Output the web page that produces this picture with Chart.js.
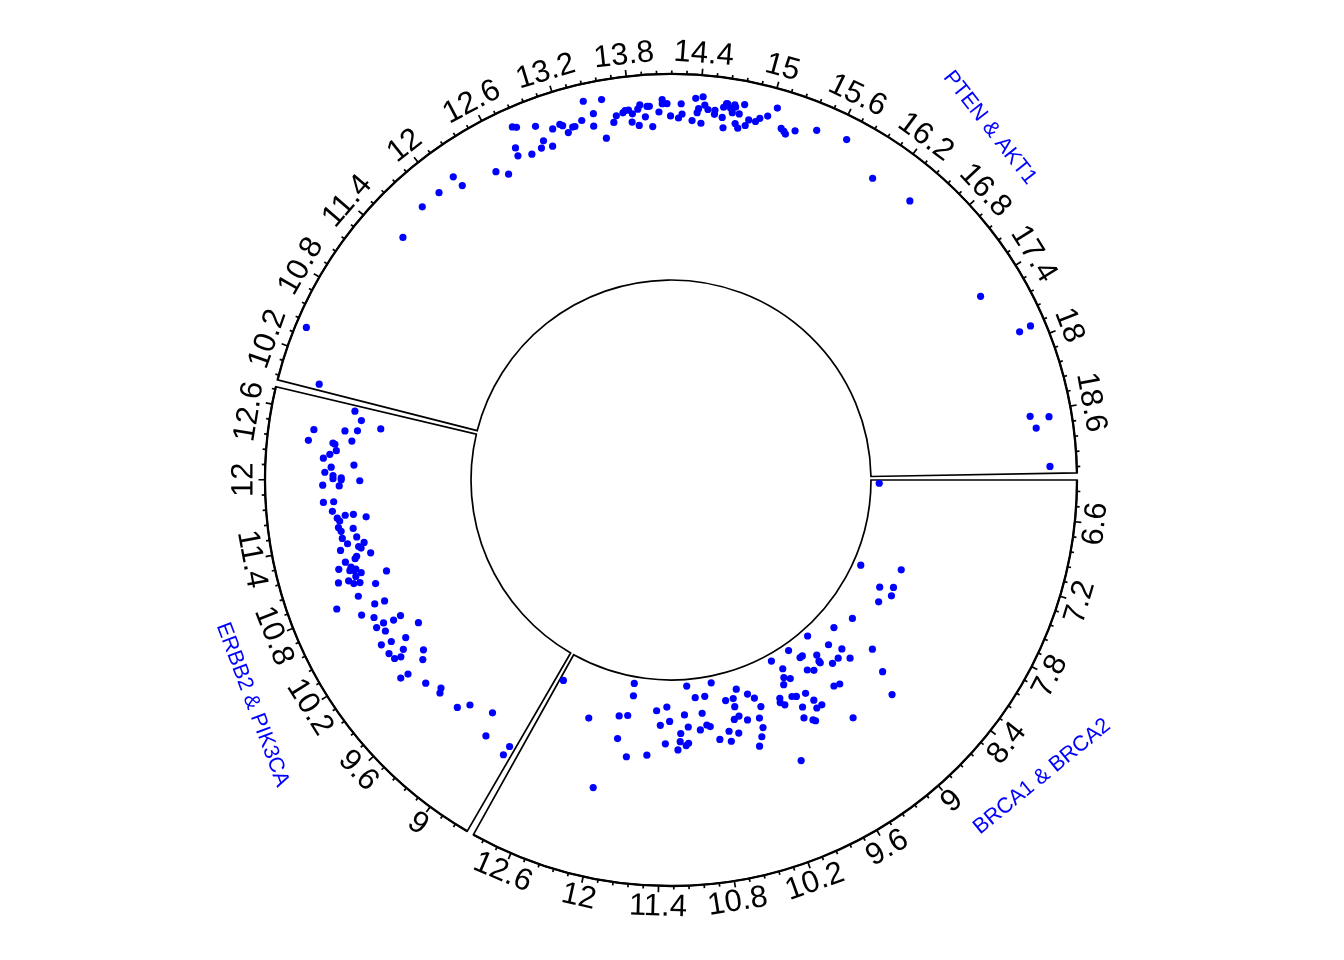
<!DOCTYPE html>
<html>
<head>
<meta charset="utf-8">
<title>Circular scatter by gene pair</title>
<script src="https://cdn.jsdelivr.net/npm/chart.js@4/dist/chart.umd.min.js"></script>
<style>
  html, body { margin: 0; padding: 0; background: #fff; }
  #wrap { width: 1344px; height: 960px; position: relative; }
</style>
</head>
<body>
<div id="wrap"><canvas id="chart"></canvas></div>
<script>
// sectors, clockwise from 3 o'clock
const sectorNames = ["BRCA1 & BRCA2", "ERBB2 & PIK3CA", "PTEN & AKT1"];
const sectorXlim = [[6.27, 12.93], [8.65, 12.74], [9.92, 19.13]];
const trackYlim = [0, 10];

// axis ticks: labelled every 0.6, 4 minor ticks between
const majorStep = 0.6;
const minorPerMajor = 5;

// sector label placement (x in sector units) and text rotation in degrees
const sectorLabelAt = [8.43, 10.42, 16.51];
const sectorLabelRot = [-39.2, 69.4, 52];

const brcaX = [12.87,12.36,11.87,11.85,11.99,11.88,11.95,11.81,11.58,12.09,11.50,11.36,11.44,11.32,11.37,11.22,11.19,11.18,11.06,11.12,11.08,11.12,11.09,
  10.95,10.81,10.88,10.93,10.84,10.80,10.68,10.71,10.53,10.42,10.34,10.43,10.58,10.58,10.48,10.41,10.47,10.21,10.14,10.32,10.10,10.17,10.17,10.22,
  10.28,9.69,9.60,9.38,9.65,9.58,9.70,9.83,9.85,9.81,9.68,9.63,9.51,9.63,9.68,9.47,9.60,9.58,9.49,9.42,9.92,9.30,9.26,9.32,9.25,9.01,9.09,9.12,9.12,
  8.87,8.64,9.00,8.90,8.78,9.17,9.10,8.79,9.22,8.52,8.64,8.75,6.32,7.63,7.47,7.80,7.72,7.83,7.98,8.37];
const brcaY = [1.4,2.6,0.4,1.0,2.1,2.0,3.2,4.0,3.8,5.8,1.6,1.4,2.3,2.1,3.2,3.5,3.1,2.7,0.4,1.8,2.4,3.3,3.2,1.0,1.0,1.8,2.6,2.4,2.5,0.4,3.2,1.4,1.4,1.0,1.8,
  2.9,3.4,2.4,2.3,3.1,1.4,1.7,2.6,2.2,2.7,3.2,3.6,4.0,0.4,1.0,0.4,1.4,1.6,1.7,2.2,2.4,2.6,2.4,2.5,2.6,3.1,3.6,3.1,3.9,4.0,3.5,3.5,5.4,1.0,1.0,1.7,
  1.9,0.4,1.4,1.7,1.8,1.4,1.0,2.2,2.2,2.0,3.1,3.2,2.6,4.9,3.1,4.2,5.3,0.4,0.4,2.3,1.7,2.3,2.4,2.0,1.4];

const erbb2X = [12.69,12.61,12.45,12.48,12.50,12.56,12.35,12.39,12.35,12.34,12.28,12.24,12.20,12.15,12.12,12.07,12.04,12.02,12.01,12.00,11.99,11.95,11.94,
  11.79,11.79,11.70,11.65,11.65,11.61,11.63,11.60,11.54,11.51,11.50,11.42,11.43,11.35,11.37,11.32,11.30,11.32,11.23,11.23,11.21,11.20,11.14,11.11,
  11.15,11.11,11.10,11.06,11.00,11.04,11.02,10.98,10.97,11.03,10.91,10.85,10.81,10.72,10.71,10.67,10.60,10.49,10.50,10.34,10.50,10.51,10.43,10.27,10.31,
  10.33,10.18,10.06,10.22,10.13,10.15,9.98,9.95,9.96,9.77,9.63,9.60,9.37,9.29,9.05,8.96,8.70,8.71];
const erbb2Y = [6.0,5.6,7.8,6.3,5.7,4.6,8.0,5.9,6.8,6.7,6.6,6.9,7.2,5.7,6.8,7.1,6.7,6.3,6.7,6.3,5.4,7.2,6.4,7.2,6.7,6.8,5.8,6.2,5.2,6.6,6.5,6.6,5.9,6.5,
  5.8,6.5,5.5,6.3,5.8,5.7,6.7,5.3,6.0,6.1,6.6,6.4,6.2,7.0,6.5,6.3,6.0,4.8,6.3,6.7,6.5,6.2,7.2,5.5,6.5,7.7,5.9,5.4,6.7,6.2,5.4,5.0,4.4,6.3,5.9,6.0,5.3,
  6.0,6.5,5.7,4.9,6.4,6.0,6.3,5.2,6.2,6.6,5.8,5.4,5.6,5.5,5.0,4.6,5.7,5.5,6.0];

const ptenX = [10.40,9.98,11.49,11.80,11.99,12.17,12.19,12.51,12.60,12.81,12.84,12.76,12.75,12.87,12.99,12.97,13.01,13.07,13.12,13.19,13.21,13.24,13.29,
  13.31,13.38,13.43,13.49,13.47,13.58,13.56,13.65,13.68,13.74,13.76,13.79,13.82,13.81,13.87,13.89,13.87,13.93,13.95,13.97,13.99,14.05,14.08,14.08,
  14.12,14.15,14.22,14.24,14.25,14.34,14.36,14.38,14.39,14.42,14.42,14.44,14.47,14.53,14.53,14.60,14.62,14.60,14.62,14.63,14.66,14.68,14.69,14.72,14.75,
  14.70,14.74,14.77,14.81,14.83,14.89,14.92,14.98,15.04,15.12,15.15,15.17,15.24,15.41,15.67,16.03,16.41,17.46,17.89,17.88,18.62,18.65,18.73,19.07];
const ptenY = [9.5,8.0,7.9,8.3,8.3,8.5,7.9,7.6,7.2,9.2,9.1,8.2,7.8,7.6,8.8,7.7,8.0,7.6,8.4,8.5,8.4,8.0,8.2,8.2,8.4,9.3,8.6,8.0,9.2,7.3,8.0,8.3,8.4,8.5,8.5,
  8.3,7.9,8.5,8.7,7.7,8.1,8.6,8.6,7.6,8.3,8.9,8.7,8.7,8.1,8.0,8.7,8.2,7.9,9.0,8.3,8.5,7.8,9.1,8.7,8.5,8.5,8.3,8.2,7.7,8.7,8.9,8.9,8.7,8.5,8.9,8.0,
  7.8,8.8,8.5,9.0,8.0,8.3,8.3,8.5,8.7,9.2,8.3,8.2,8.1,8.4,8.8,9.0,8.0,8.2,7.8,8.7,9.3,8.0,8.9,8.2,8.7];

const seriesX = [brcaX, erbb2X, ptenX];
const seriesY = [brcaY, erbb2Y, ptenY];

// geometry (px units of the square plot frame)
const CX = 671, CY = 480, HALF = 480;
const R_OUT = 406, R_IN = 200;
const GAP_DEG = 1, START_DEG = 0;
const labelFont = '31px "Liberation Sans", Arial, sans-serif';
const sectorFont = '21.5px "Liberation Sans", Arial, sans-serif';

// angle of every sector, like circlize: width proportional to x range
const totalRange = sectorXlim.reduce((s, l) => s + l[1] - l[0], 0);
const degPerUnit = (360 - GAP_DEG * sectorXlim.length) / totalRange;
const sectorStart = [];
let acc = START_DEG;
sectorXlim.forEach(l => { sectorStart.push(acc); acc += (l[1] - l[0]) * degPerUnit + GAP_DEG; });

function angleOf(s, x) {
  return (sectorStart[s] + (x - sectorXlim[s][0]) * degPerUnit) * Math.PI / 180;
}
function radiusOf(y) {
  return R_IN + (y - trackYlim[0]) / (trackYlim[1] - trackYlim[0]) * (R_OUT - R_IN);
}

const datasets = sectorNames.map((name, s) => ({
  label: name,
  data: seriesX[s].map((x, i) => {
    const a = angleOf(s, x), r = radiusOf(seriesY[s][i]);
    return { x: r * Math.cos(a), y: r * Math.sin(a) };
  }),
  backgroundColor: "#0000ff",
  borderWidth: 0,
  pointRadius: 3.6,
  pointHoverRadius: 3.6
}));

function fmt(v) {
  return String(Math.round(v * 10) / 10);
}

const circosFrame = {
  id: "circosFrame",
  beforeDatasetsDraw(chart) {
    const { ctx, scales } = chart;
    const ox = scales.x.getPixelForValue(0), oy = scales.y.getPixelForValue(0);
    const k = scales.x.getPixelForValue(1) - ox;
    const rOut = R_OUT * k, rIn = R_IN * k;
    ctx.save();
    ctx.strokeStyle = "#000";
    ctx.lineJoin = "miter";

    sectorNames.forEach((name, s) => {
      const a0 = angleOf(s, sectorXlim[s][0]), a1 = angleOf(s, sectorXlim[s][1]);
      // cell border
      ctx.lineWidth = 1.7;
      ctx.beginPath();
      ctx.arc(ox, oy, rOut, a0, a1, false);
      ctx.arc(ox, oy, rIn, a1, a0, true);
      ctx.closePath();
      ctx.stroke();

      // axis line on top of the cell
      ctx.lineWidth = 2.3;
      ctx.beginPath();
      ctx.arc(ox, oy, rOut, a0, a1, false);
      ctx.stroke();

      // ticks and labels
      const step = majorStep / minorPerMajor;
      const first = Math.ceil(sectorXlim[s][0] / step - 1e-9);
      const last = Math.floor(sectorXlim[s][1] / step + 1e-9);
      ctx.lineWidth = 1.7;
      ctx.font = labelFont;
      for (let i = first; i <= last; i++) {
        const v = i * step;
        const major = i % minorPerMajor === 0;
        const a = angleOf(s, v);
        const len = (major ? 6.5 : 3.5) * k;
        ctx.beginPath();
        ctx.moveTo(ox + rOut * Math.cos(a), oy + rOut * Math.sin(a));
        ctx.lineTo(ox + (rOut + len) * Math.cos(a), oy + (rOut + len) * Math.sin(a));
        ctx.stroke();
        if (major) {
          const rl = rOut + 21 * k;
          const txt = fmt(v);
          // keep end labels inside their sector
          const half = ctx.measureText(txt).width / 2 / rl;
          let la = a;
          if (la + half > a1) la = a1 - half;
          if (la - half < a0) la = a0 + half;
          let rot = la + Math.PI / 2;
          while (rot > Math.PI / 2 + 1e-6) rot -= Math.PI;
          while (rot <= -Math.PI / 2 + 1e-6) rot += Math.PI;
          ctx.save();
          ctx.translate(ox + rl * Math.cos(la), oy + rl * Math.sin(la));
          ctx.rotate(rot);
          ctx.fillStyle = "#000";
          ctx.textAlign = "center";
          ctx.textBaseline = "middle";
          ctx.fillText(txt, 0, 0);
          ctx.restore();
        }
      }

      // sector name
      const la = angleOf(s, sectorLabelAt[s]);
      const lr = rOut + 69 * k;
      ctx.save();
      ctx.translate(ox + lr * Math.cos(la), oy + lr * Math.sin(la));
      ctx.rotate(sectorLabelRot[s] * Math.PI / 180);
      ctx.font = sectorFont;
      ctx.fillStyle = "#0000ff";
      ctx.textAlign = "center";
      ctx.textBaseline = "middle";
      ctx.fillText(name, 0, 0);
      ctx.restore();
    });
    ctx.restore();
  }
};

new Chart(document.getElementById("chart"), {
  type: "scatter",
  data: { datasets },
  options: {
    responsive: true,
    maintainAspectRatio: false,
    animation: false,
    events: [],
    layout: { padding: { left: CX - HALF, right: 1344 - CX - HALF, top: CY - HALF, bottom: 960 - CY - HALF } },
    scales: {
      x: { type: "linear", min: -HALF, max: HALF, display: false },
      y: { type: "linear", min: -HALF, max: HALF, reverse: true, display: false }
    },
    plugins: { legend: { display: false }, tooltip: { enabled: false } }
  },
  plugins: [circosFrame]
});
</script>
</body>
</html>
